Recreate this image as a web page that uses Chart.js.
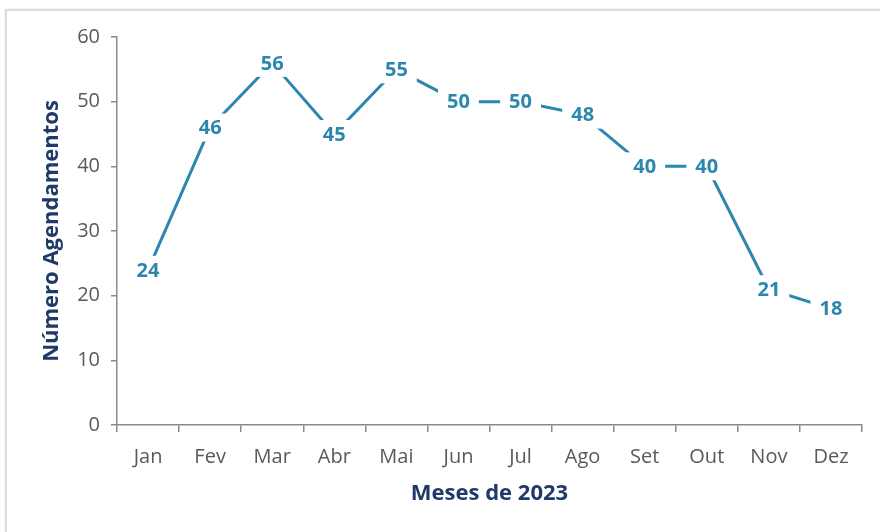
<!DOCTYPE html>
<html>
<head>
<meta charset="utf-8">
<script src="https://cdn.jsdelivr.net/npm/chart.js@4.4.1/dist/chart.umd.min.js"></script>
<style>
  html, body { margin: 0; padding: 0; background: #fff; }
  #ramecek { position: absolute; left: 5px; top: 9px; width: 900px; height: 560px; border: 2px solid #dcdcdc; box-shadow: 0 0 2px #e6e6e6; }
  #obal { position: absolute; left: 0; top: 0; width: 880px; height: 532px; }
</style>
</head>
<body>
<div id="ramecek"></div>
<div id="obal"><canvas id="grafAgend" width="880" height="532"></canvas></div>
<script>
const mesice = ["Jan", "Fev", "Mar", "Abr", "Mai", "Jun", "Jul", "Ago", "Set", "Out", "Nov", "Dez"];
const agendamentos = [24, 46, 56, 45, 55, 50, 50, 48, 40, 40, 21, 18];
const yTicks = [0, 10, 20, 30, 40, 50, 60];

const modra = "#2b87ae";
const tmava = "#1f3a68";
const seda = "#595959";
const osa = "#8a8a8a";
const pismo = "'Open Sans', 'Noto Sans', sans-serif";

// popisky hodnot s bílým pozadím přes čáru (jako v Excelu)
const popiskyPlugin = {
    id: "popisky",
    afterDatasetsDraw: function(chart) {
        const ctx = chart.ctx;
        const meta = chart.getDatasetMeta(0);
        ctx.save();
        ctx.font = "bold 20px " + pismo;
        ctx.textAlign = "center";
        ctx.textBaseline = "middle";
        meta.data.forEach(function(bod, i) {
            const txt = String(agendamentos[i]);
            const w = ctx.measureText(txt).width;
            ctx.fillStyle = "#ffffff";
            ctx.fillRect(bod.x - w / 2 - 9, bod.y - 14, w + 18, 28);
            ctx.fillStyle = modra;
            ctx.fillText(txt, bod.x, bod.y + 1);
        });
        ctx.restore();
    }
};

new Chart(document.getElementById("grafAgend").getContext("2d"), {
    type: "line",
    data: {
        labels: mesice,
        datasets: [{
            data: agendamentos,
            borderColor: modra,
            borderWidth: 3,
            pointRadius: 0,
            tension: 0,
            fill: false
        }]
    },
    options: {
        responsive: false,
        animation: false,
        layout: { padding: { left: 30, right: 18, top: 37, bottom: 21 } },
        plugins: { legend: { display: false }, tooltip: { enabled: false } },
        scales: {
            x: {
                offset: true,
                grid: { display: true, drawOnChartArea: false, offset: true, tickLength: 7, color: osa, lineWidth: 1.5 },
                border: { display: true, color: osa, width: 1.5 },
                ticks: { color: seda, padding: 13, font: { family: pismo, size: 20 } },
                title: { display: true, text: "Meses de 2023", color: tmava, padding: { top: 0, bottom: 4 }, font: { family: pismo, size: 22, weight: "bold" } },
                afterFit: function(scale) { scale.height = 86; }
            },
            y: {
                min: 0,
                max: 60,
                afterBuildTicks: function(scale) { scale.ticks = yTicks.map(function(v) { return { value: v }; }); },
                grid: { display: true, drawOnChartArea: false, tickLength: 6, color: osa, lineWidth: 1.5 },
                border: { display: true, color: osa, width: 1.5 },
                ticks: { color: seda, padding: 11, font: { family: pismo, size: 20 } },
                title: { display: true, text: "Número Agendamentos", color: tmava, padding: { top: 9, bottom: 0 }, font: { family: pismo, size: 22, weight: "bold" } },
                afterFit: function(scale) { scale.width = 87; }
            }
        }
    },
    plugins: [popiskyPlugin]
});
</script>
</body>
</html>
